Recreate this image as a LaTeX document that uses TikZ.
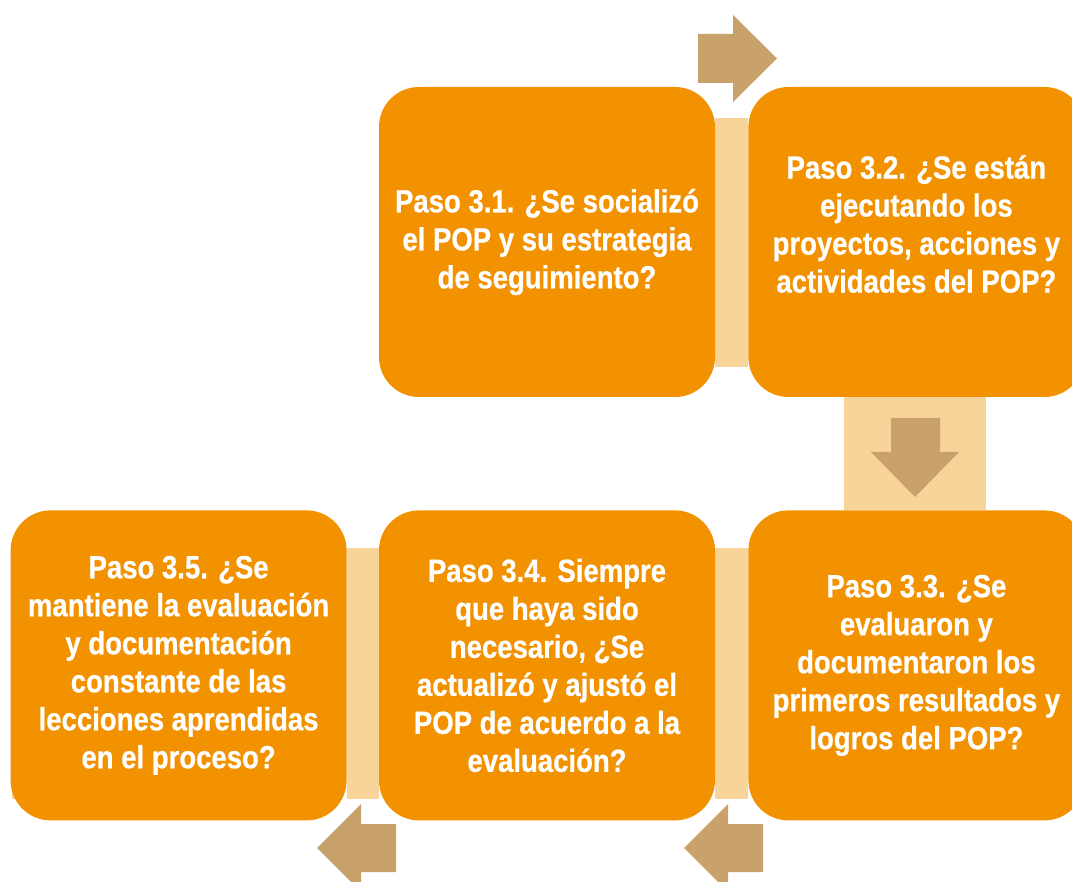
\documentclass[tikz,border=0pt]{standalone}
\usepackage{fontspec}
\setmainfont{Liberation Sans}[FakeStretch=0.86, BoldFeatures={FakeBold=0.6}]
\usetikzlibrary{positioning,backgrounds}

\definecolor{boxorange}{RGB}{242,146,0}
\definecolor{barpeach}{RGB}{249,212,154}
\definecolor{arrowtan}{RGB}{201,161,106}

\tikzset{
  paso/.style={fill=boxorange, rounded corners=40pt, minimum width=336pt,
    minimum height=310pt, inner sep=0pt, align=center, text=white,
    font=\fontsize{32}{38}\selectfont\bfseries},
  pasotext/.style={align=center, text=white, inner sep=0pt,
    font=\fontsize{32}{38}\selectfont\bfseries},
  bar/.style={fill=barpeach},
  flecha/.style={fill=arrowtan}
}

\begin{document}
\begin{tikzpicture}[x=1pt,y=-1pt]
\useasboundingbox (0,0) rectangle (1072,882);

% --- the five steps ---
\node[paso] (s31) at (547,242) {Paso 3.1. ¿Se socializó\\el POP y su estrategia\\de seguimiento?};
\node[paso, right=33pt of s31] (s32) {};
\node[pasotext] (t32) at ([yshift=18pt]s32.center) {Paso 3.2. ¿Se están\\ejecutando los\\proyectos, acciones y\\actividades del POP?};
\node[paso, below=113pt of s32] (s33) {Paso 3.3. ¿Se\\evaluaron y\\documentaron los\\primeros resultados y\\logros del POP?};
\node[paso, below=113pt of s31] (s34) {Paso 3.4. Siempre\\que haya sido\\necesario, ¿Se\\actualizó y ajustó el\\POP de acuerdo a la\\evaluación?};
\node[paso, left=32pt of s34] (s35) {Paso 3.5. ¿Se\\mantiene la evaluación\\y documentación\\constante de las\\lecciones aprendidas\\en el proceso?};
\coordinate (in35) at (12,548);

% --- bars behind the boxes ---
\begin{scope}[on background layer]
\fill[bar] ([yshift=-31pt]s31.north east) rectangle ([yshift=30pt]s32.south west);
\fill[bar] ([xshift=-72pt]s32.south) rectangle ([xshift=70pt]s33.north);
\fill[bar] ([yshift=-38pt]s34.north east) rectangle ([yshift=22pt]s33.south west);
\fill[bar] ([yshift=-38pt]s35.north east) rectangle ([yshift=22pt]s34.south west);
\fill[bar] (in35) rectangle ([yshift=22pt]s35.south);
\end{scope}

% --- arrows ---
\fill[flecha] (698,34) -- (733,34) -- (733,15) -- (777,58.5) -- (733,102) -- (733,83) -- (698,83) -- cycle;
\fill[flecha] (891,418) -- (940,418) -- (940,452) -- (959,452) -- (915,497) -- (871,452) -- (891,452) -- cycle;
\fill[flecha] (396,824) -- (361,824) -- (361,804) -- (317,848) -- (361,892) -- (361,872) -- (396,872) -- cycle;
\fill[flecha] (763,824) -- (728,824) -- (728,804) -- (684,848) -- (728,892) -- (728,872) -- (763,872) -- cycle;
\end{tikzpicture}
\end{document}
